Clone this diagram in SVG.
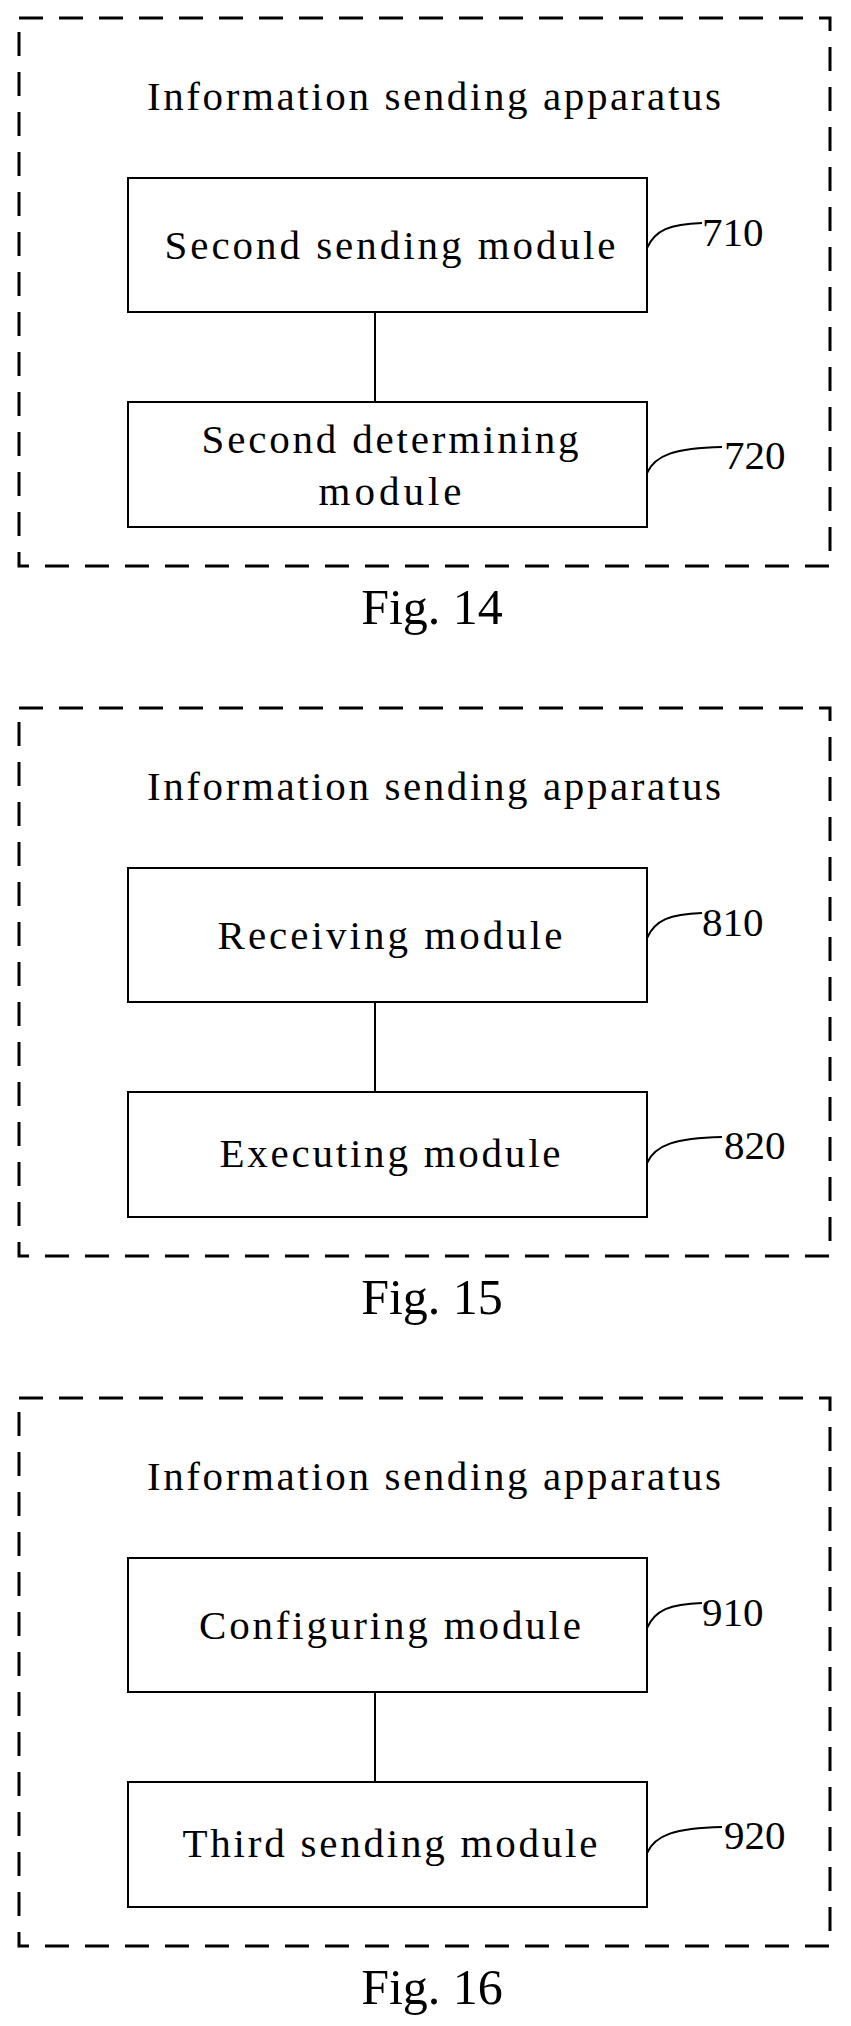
<svg xmlns="http://www.w3.org/2000/svg" width="851" height="2026" viewBox="0 0 851 2026">
<style>
text{font-family:"Liberation Serif","Times New Roman",serif;font-size:41px;fill:#000}
.c{text-anchor:middle}
.fig{font-size:50px}
.dash{fill:none;stroke:#000;stroke-width:3;stroke-dasharray:24,16}
.box{fill:#fff;stroke:#000;stroke-width:2}
.ln{fill:none;stroke:#000;stroke-width:2}
</style>
<rect width="851" height="2026" fill="#fff"/>
<g id="fig14">
<rect class="dash" x="19" y="18" width="811" height="548"/>
<text class="c" x="434" y="110" textLength="574">Information sending apparatus</text>
<g id="n710"><rect class="box" x="128" y="178" width="519" height="134"/><text class="c" x="390" y="259" textLength="451">Second sending module</text></g>
<g id="n720"><rect class="box" x="128" y="402" width="519" height="125"/><text class="c" x="390" y="453" textLength="377">Second determining</text><text class="c" x="390" y="505" textLength="143">module</text></g>
<g id="c14"><line class="ln" x1="375" y1="312" x2="375" y2="402"/><path class="ln" d="M647,248 C655,230 670,224 702,223"/><path class="ln" d="M647,473 C655,455 675,448 722,447"/></g>
<text x="702" y="246">710</text><text x="724" y="469">720</text>
<text class="fig c" x="432" y="624">Fig. 14</text>
</g>
<g id="fig15" transform="translate(0,690)">
<rect class="dash" x="19" y="18" width="811" height="548"/>
<text class="c" x="434" y="110" textLength="574">Information sending apparatus</text>
<g id="n810"><rect class="box" x="128" y="178" width="519" height="134"/><text class="c" x="390" y="259" textLength="345">Receiving module</text></g>
<g id="n820"><rect class="box" x="128" y="402" width="519" height="125"/><text class="c" x="390" y="477" textLength="341">Executing module</text></g>
<g id="c15"><line class="ln" x1="375" y1="312" x2="375" y2="402"/><path class="ln" d="M647,248 C655,230 670,224 702,223"/><path class="ln" d="M647,473 C655,455 675,448 722,447"/></g>
<text x="702" y="246">810</text><text x="724" y="469">820</text>
<text class="fig c" x="432" y="624">Fig. 15</text>
</g>
<g id="fig16" transform="translate(0,1380)">
<rect class="dash" x="19" y="18" width="811" height="548"/>
<text class="c" x="434" y="110" textLength="574">Information sending apparatus</text>
<g id="n910"><rect class="box" x="128" y="178" width="519" height="134"/><text class="c" x="390" y="259" textLength="382">Configuring module</text></g>
<g id="n920"><rect class="box" x="128" y="402" width="519" height="125"/><text class="c" x="390" y="477" textLength="415">Third sending module</text></g>
<g id="c16"><line class="ln" x1="375" y1="312" x2="375" y2="402"/><path class="ln" d="M647,248 C655,230 670,224 702,223"/><path class="ln" d="M647,473 C655,455 675,448 722,447"/></g>
<text x="702" y="246">910</text><text x="724" y="469">920</text>
<text class="fig c" x="432" y="624">Fig. 16</text>
</g>
</svg>
